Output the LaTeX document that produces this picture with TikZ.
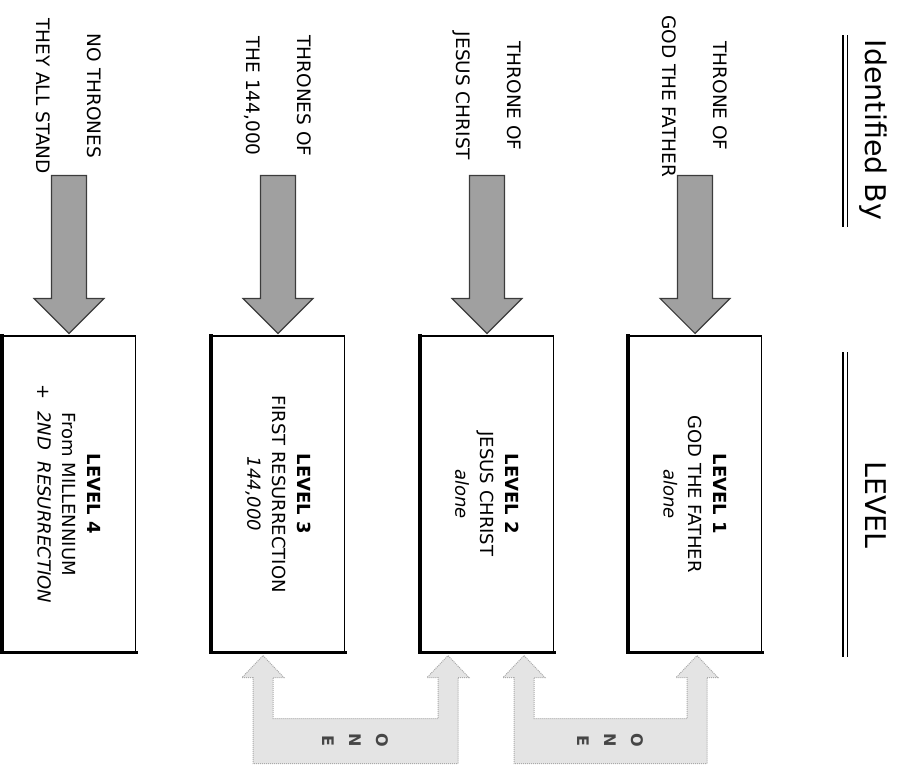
\documentclass[tikz,border=0pt]{standalone}
\usepackage{fontspec}
\setmainfont{DejaVu Sans}
\usetikzlibrary{calc,positioning}
\definecolor{arrowfill}{RGB}{160,160,160}
\definecolor{arrowline}{RGB}{60,60,60}
\definecolor{onefill}{RGB}{228,228,228}
\definecolor{oneline}{RGB}{170,170,170}
\definecolor{onetextc}{RGB}{70,70,70}

\begin{document}
\begin{tikzpicture}[x=1pt, y=-1pt,
  levelbox/.style={draw, line width=1.2pt, minimum width=133pt, minimum height=316pt, inner sep=0pt},
  boxtext/.style={rotate=-90, align=center, font=\fontsize{18}{25}\selectfont},
  toplabel/.style={rotate=-90, align=center, font=\fontsize{18.5}{51}\selectfont},
  header/.style={rotate=-90, anchor=base, font=\fontsize{28.5}{34}\selectfont},
  dblline/.style={line width=1.2pt, double, double distance=3pt},
  downarrow/.style={fill=arrowfill, draw=arrowline, line width=1.2pt, line join=miter},
  onearrow/.style={fill=onefill, draw=oneline, line width=1pt, densely dotted},
  onetext/.style={rotate=-90, align=center, text=onetextc, font=\fontsize{16}{27}\selectfont\bfseries}]
  \useasboundingbox (0,0) rectangle (897,764);

  % Column headers
  \node[header] (hid) at (865,130) {Identified By};
  \node[header] (hlev) at (865,505) {LEVEL};
  \draw[dblline] (845,35) -- (845,227);
  \draw[dblline] (845,352) -- (845,657);

  % Level boxes
  \node[levelbox] (box1) at (695,494) {};
  \node[levelbox] (box2) at (487,494) {};
  \node[levelbox] (box3) at (278,494) {};
  \node[levelbox] (box4) at (69,494) {};
  \foreach \i in {1,...,4}{
    \draw[line width=3.5pt, line cap=rect] (box\i.north west) -- (box\i.south west) -- (box\i.south east);
  }

  \node[boxtext] (txt1) at (box1) {\textbf{LEVEL 1}\\GOD THE FATHER\\\textit{alone}};
  \node[boxtext] (txt2) at (box2) {\textbf{LEVEL 2}\\JESUS CHRIST\\\textit{alone}};
  \node[boxtext] (txt3) at (box3) {\textbf{LEVEL 3}\\FIRST RESURRECTION\\\textit{144,000}};
  \node[boxtext] (txt4) at (box4) {\textbf{LEVEL 4}\\From MILLENNIUM\\+\ \ \textit{2ND\ \ RESURRECTION}};

  % Thrones
  \coordinate (labrow) at (0,96);
  \node[toplabel] (lab1) at (box1 |- labrow) {THRONE OF\\GOD THE FATHER};
  \node[toplabel] (lab2) at (box2 |- labrow) {THRONE OF\\JESUS CHRIST};
  \node[toplabel] (lab3) at (box3 |- labrow) {THRONES OF\\THE 144,000};
  \node[toplabel] (lab4) at (box4 |- labrow) {NO THRONES\\THEY ALL STAND};

  \foreach \i in {1,...,4}{
    \draw[downarrow] let \p1=(box\i.north) in
      (\x1,\y1+2pt) -- (\x1+35pt,\y1+37pt) -- (\x1+17.5pt,\y1+37pt) -- (\x1+17.5pt,\y1+160pt)
      -- (\x1-17.5pt,\y1+160pt) -- (\x1-17.5pt,\y1+37pt) -- (\x1-35pt,\y1+37pt) -- cycle;
  }

  % ONE links under the boxes
  \coordinate (l1) at ($(box3.south)+(-15,3)$);
  \coordinate (r1) at ($(box2.south)+(-39,3)$);
  \coordinate (l2) at ($(box2.south)+(37,3)$);
  \coordinate (r2) at ($(box1.south)+(2,3)$);
  \foreach \a/\b/\n in {l1/r1/one1, l2/r2/one2}{
    \draw[onearrow] let \p1=(\a), \p2=(\b) in
      (\x1,\y1) -- (\x1+21pt,\y1-22pt) -- (\x1+10pt,\y1-22pt) -- (\x1+10pt,\y1-63pt)
      -- (\x2-10pt,\y1-63pt) -- (\x2-10pt,\y1-22pt) -- (\x2-21pt,\y1-22pt) -- (\x2,\y2)
      -- (\x2+21pt,\y2-22pt) -- (\x2+10pt,\y2-22pt) -- (\x2+10pt,\y2-108pt)
      -- (\x1-10pt,\y1-108pt) -- (\x1-10pt,\y1-22pt) -- (\x1-21pt,\y1-22pt) -- cycle;
    \node[onetext] (\n) at ($(\a)!0.5!(\b)+(0,85)$) {O\\N\\E};
  }
\end{tikzpicture}
\end{document}
